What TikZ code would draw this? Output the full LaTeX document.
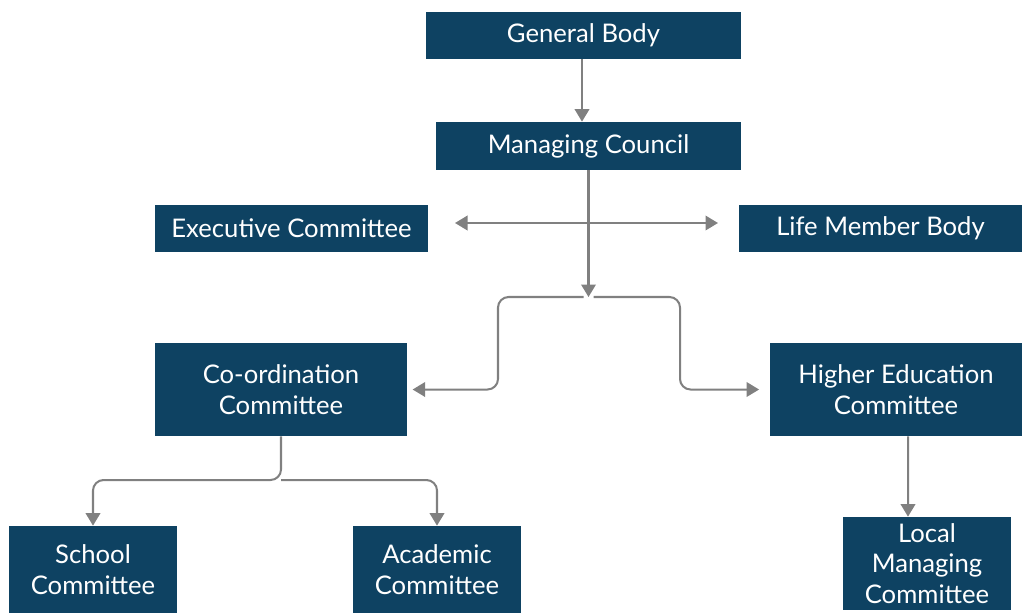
\documentclass[tikz,border=0pt]{standalone}
\usepackage{fontspec}
\setmainfont{Lato}
\usetikzlibrary{arrows.meta}

\definecolor{boxblue}{HTML}{0E4262}
\definecolor{linkgray}{HTML}{808080}

\begin{document}
\begin{tikzpicture}[
    unit/.style={
        rectangle,
        fill=boxblue,
        text=white,
        align=center,
        inner sep=0pt,
        font=\fontsize{14.6}{17.5}\selectfont
    },
    link/.style={
        -{Triangle[length=2.5mm,width=2.9mm]},
        draw=linkgray,
        line width=1.15pt
    }
]

\useasboundingbox (0,0) rectangle (20.44,-12.26);

% Top of the structure
\node[unit, minimum width=6.3cm, minimum height=0.94cm] (gb) at (11.67,-0.71) {General Body};
\node[unit, minimum width=6.1cm, minimum height=0.96cm] (mc) at (11.77,-2.92) {Managing Council};

% Bodies beside the council
\node[unit, minimum width=5.46cm, minimum height=0.94cm] (exec) at (5.83,-4.57) {Executive Committee};
\node[unit, minimum width=5.66cm, minimum height=0.94cm] (life) at (17.61,-4.57) {Life Member Body};

% Committees
\node[unit, minimum width=5.04cm, minimum height=1.86cm] (coord) at (5.62,-7.79) {Co-ordination\\Committee};
\node[unit, minimum width=5.04cm, minimum height=1.86cm] (higher) at (17.92,-7.79) {Higher Education\\Committee};

% Sub-committees
\node[unit, minimum width=3.36cm, minimum height=1.74cm] (school) at (1.86,-11.39) {School\\Committee};
\node[unit, minimum width=3.36cm, minimum height=1.74cm] (academic) at (8.74,-11.39) {Academic\\Committee};
\node[unit, minimum width=3.36cm, minimum height=1.86cm] (local) at (18.54,-11.27) {Local\\Managing\\Committee};

% Free ends
\coordinate (split) at (11.77,-5.94);
\coordinate (sideL) at (9.1,-4.46);
\coordinate (sideR) at (14.36,-4.46);
\coordinate (fork) at (5.62,-9.6);

% Arrows
\draw[link] (gb.south -| 11.64,0) -- (mc.north -| 11.64,0);
\draw[link] (mc.south) -- (split);
\draw[link, {Triangle[length=2.5mm,width=2.9mm]}-{Triangle[length=2.5mm,width=2.9mm]}] (sideL) -- (sideR);
\draw[link, rounded corners=6pt, shorten >=3pt] ([xshift=-0.1cm]split) -| (9.96,-6.8) |- (coord.east);
\draw[link, rounded corners=6pt, shorten >=6pt] ([xshift=0.1cm]split) -| (13.6,-6.8) |- (higher.west);
\draw[link, rounded corners=6pt] (coord.south) -- (fork) -| (school.north);
\draw[link, rounded corners=6pt] (fork) -| (academic.north);
\draw[link] ([xshift=0.24cm]higher.south) -- ([xshift=-0.38cm]local.north);

\end{tikzpicture}
\end{document}
